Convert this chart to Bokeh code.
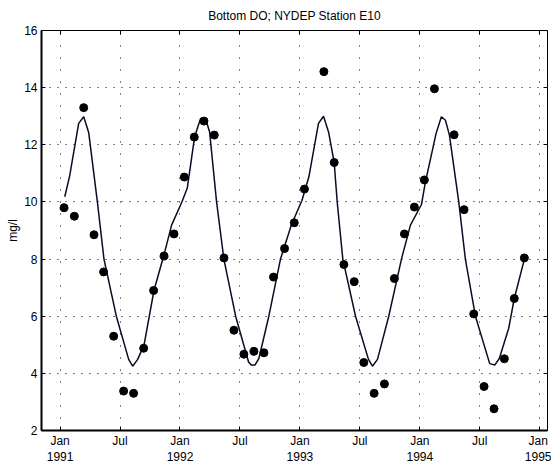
from bokeh.plotting import figure
from bokeh.models import Range1d, FixedTicker, LinearAxis, ColumnDataSource, CustomLabelingPolicy
from bokeh.embed import file_html
from bokeh.resources import INLINE

# Observed bottom DO (mg/l) at sampling times (decimal year)
obs_time = [1991.033, 1991.119, 1991.197, 1991.283, 1991.363, 1991.447, 1991.530, 1991.613,
            1991.697, 1991.780, 1991.867, 1991.950,
            1992.036, 1992.119, 1992.200, 1992.286, 1992.367, 1992.450, 1992.533, 1992.617,
            1992.700, 1992.780, 1992.872, 1992.953,
            1993.038, 1993.200, 1993.286, 1993.367, 1993.453, 1993.533, 1993.619, 1993.705,
            1993.788, 1993.872, 1993.955,
            1994.038, 1994.122, 1994.286, 1994.369, 1994.450, 1994.536, 1994.619, 1994.705,
            1994.788, 1994.872]
obs_do = [9.80, 9.50, 13.30, 8.85, 7.55, 5.30, 3.38, 3.30, 4.88, 6.90, 8.11, 8.88,
          10.87, 12.27, 12.83, 12.34, 8.04, 5.51, 4.67, 4.77, 4.72, 7.37, 8.37, 9.27,
          10.45, 14.56, 11.38, 7.81, 7.21, 4.38, 3.30, 3.63, 7.32, 8.88, 9.82,
          10.77, 13.96, 12.35, 9.73, 6.08, 3.54, 2.76, 4.51, 6.62, 8.04]

# Model curve (decimal year, mg/l)
model_time = [1991.039, 1991.080, 1991.155, 1991.197, 1991.239, 1991.311, 1991.366, 1991.469,
              1991.572, 1991.605, 1991.647, 1991.700, 1991.783, 1991.866, 1991.930, 1992.014,
              1992.061, 1992.122, 1992.172, 1992.214, 1992.247, 1992.305, 1992.366, 1992.464,
              1992.572, 1992.594, 1992.625, 1992.658, 1992.741, 1992.838, 1992.930, 1993.017,
              1993.075, 1993.155, 1993.197, 1993.239, 1993.286, 1993.311, 1993.358, 1993.464,
              1993.572, 1993.605, 1993.647, 1993.741, 1993.847, 1993.922, 1994.014,
              1994.047, 1994.136, 1994.180, 1994.214, 1994.247, 1994.325, 1994.380, 1994.464,
              1994.583, 1994.625, 1994.663, 1994.741, 1994.788, 1994.875]
model_do = [10.18, 10.91, 12.75, 12.98, 12.42, 10.00, 8.00, 6.00,
            4.49, 4.25, 4.49, 4.99, 6.90, 8.14, 9.19, 9.98,
            10.49, 12.28, 12.92, 12.90, 12.45, 10.00, 8.00, 6.00,
            4.40, 4.29, 4.29, 4.52, 6.00, 8.00, 9.21, 10.05,
            10.88, 12.75, 13.00, 12.45, 11.38, 10.00, 8.00, 6.00,
            4.49, 4.25, 4.49, 6.00, 8.00, 9.19, 9.91,
            10.70, 12.40, 12.98, 12.86, 12.34, 10.00, 8.00, 6.00,
            4.34, 4.29, 4.52, 5.57, 6.62, 8.04]

x_ticks = [1991, 1991.5, 1992, 1992.5, 1993, 1993.5, 1994, 1994.5, 1995]
x_tick_labels = ["Jan\n1991", "Jul", "Jan\n1992", "Jul", "Jan\n1993", "Jul",
                 "Jan\n1994", "Jul", "Jan\n1995"]
y_ticks = [2, 4, 6, 8, 10, 12, 14, 16]

FONT = "Liberation Sans"
FS = "12px"

p = figure(frame_width=506, frame_height=400,
           x_range=Range1d(1990.845, 1995.065), y_range=Range1d(2, 16),
           output_backend="svg", toolbar_location=None,
           min_border_left=41, min_border_right=4, min_border_top=30, min_border_bottom=26,
           title="Bottom DO; NYDEP Station E10")
p.background_fill_color = "white"
p.border_fill_color = "white"
p.outline_line_color = "black"
p.outline_line_width = 1

p.title.align = "center"
p.title.text_font = FONT
p.title.text_font_size = FS
p.title.text_font_style = "normal"
p.title.text_color = "black"
p.title.standoff = 7

xax = p.xaxis[0]
xax.ticker = FixedTicker(ticks=x_ticks)
xax.major_label_overrides = dict(zip(x_ticks, x_tick_labels))
yax = p.yaxis[0]
yax.ticker = FixedTicker(ticks=y_ticks)
yax.axis_label = "mg/l"
yax.axis_label_text_font = FONT
yax.axis_label_text_font_size = FS
yax.axis_label_text_font_style = "normal"
yax.axis_label_text_color = "black"
yax.axis_label_standoff = 1

for ax in (xax, yax):
    ax.major_label_text_font = FONT
    ax.major_label_text_font_size = FS
    ax.major_label_text_color = "black"
    ax.major_tick_in = 4
    ax.major_tick_out = 0
    ax.minor_tick_line_color = None
    ax.axis_line_width = 2
    ax.axis_line_color = "black"
    ax.major_tick_line_color = "black"
xax.major_label_standoff = 3
yax.major_label_standoff = 4

no_labels = "const n = indices.size; for (let i = 0; i < n; i++) { indices.unset(i) } return indices"
top = LinearAxis(ticker=FixedTicker(ticks=x_ticks), major_label_text_font_size="1px",
                 major_label_policy=CustomLabelingPolicy(code=no_labels),
                 major_tick_in=4, major_tick_out=0, minor_tick_line_color=None,
                 axis_line_color=None, major_label_standoff=0)
right = LinearAxis(ticker=FixedTicker(ticks=y_ticks), major_label_text_font_size="1px",
                   major_label_policy=CustomLabelingPolicy(code=no_labels),
                   major_tick_in=4, major_tick_out=0, minor_tick_line_color=None,
                   axis_line_color=None, major_label_standoff=0)
p.add_layout(top, "above")
p.add_layout(right, "right")

p.xgrid.ticker = FixedTicker(ticks=x_ticks)
p.ygrid.ticker = FixedTicker(ticks=y_ticks)
p.xgrid.grid_line_color = "black"
p.xgrid.grid_line_dash = "1 11"
p.ygrid.grid_line_color = "black"
p.ygrid.grid_line_dash = "1 7"

model_src = ColumnDataSource(dict(t=model_time, v=model_do))
obs_src = ColumnDataSource(dict(t=obs_time, v=obs_do))
p.line("t", "v", source=model_src, line_color="#0b0b26", line_width=1.5)
p.scatter("t", "v", source=obs_src, size=8, fill_color="black", line_color="black")

open("out.html", "w").write(file_html(p, INLINE))
